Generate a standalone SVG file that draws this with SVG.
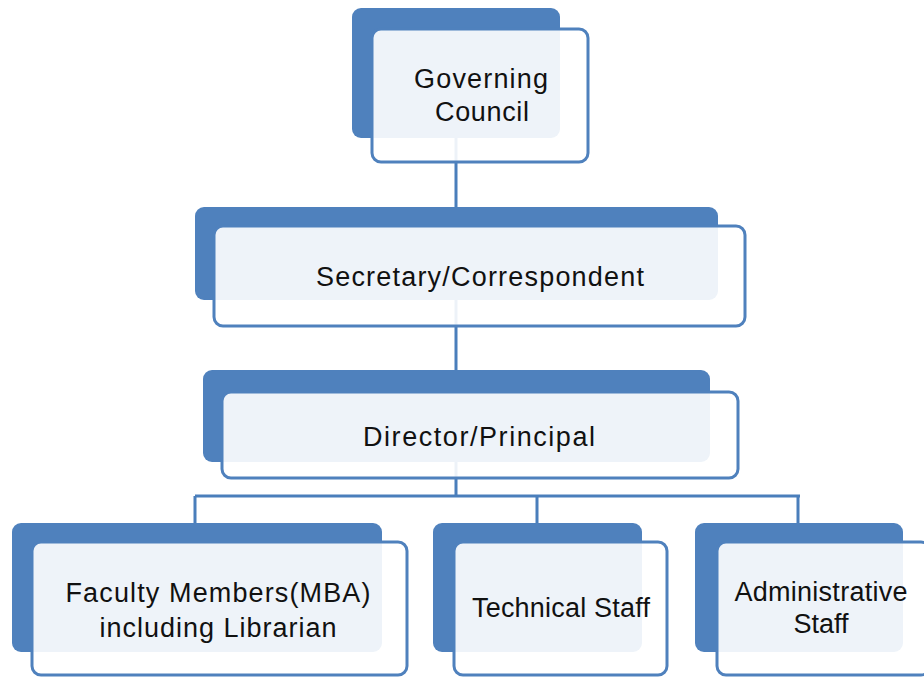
<svg xmlns="http://www.w3.org/2000/svg" width="924" height="677" viewBox="0 0 924 677">
<style>
.back{fill:#4F81BD;}
.front{fill:#FFFFFF;fill-opacity:0.9;stroke:#4F81BD;stroke-width:3;}
.conn{stroke:#4A7EBB;stroke-width:3;fill:none;}
.t{font-family:"Liberation Sans",Arial,sans-serif;font-size:27px;fill:#111111;text-anchor:middle;}
</style>
<rect width="924" height="677" fill="#FFFFFF"/>
<g id="connectors">
<path class="conn" d="M456 138V207M456 300V370M456 462V496M195 496H800M195 496V523M537 496V523M798 496V523"/>
</g>
<g id="governing-council">
<rect class="back" x="352" y="8" width="208" height="130" rx="9"/>
<rect class="front" x="372" y="29" width="216" height="133" rx="9"/>
<text class="t" x="481" y="88" textLength="134" lengthAdjust="spacing">Governing</text>
<text class="t" x="482" y="121" textLength="94" lengthAdjust="spacing">Council</text>
</g>
<g id="secretary">
<rect class="back" x="195" y="207" width="523" height="93" rx="9"/>
<rect class="front" x="214" y="226" width="531" height="100" rx="9"/>
<text class="t" x="480" y="286" textLength="328" lengthAdjust="spacing">Secretary/Correspondent</text>
</g>
<g id="director">
<rect class="back" x="203" y="370" width="507" height="92" rx="9"/>
<rect class="front" x="222" y="392" width="516" height="86" rx="9"/>
<text class="t" x="479" y="446" textLength="232" lengthAdjust="spacing">Director/Principal</text>
</g>
<g id="faculty">
<rect class="back" x="12" y="523" width="370" height="129" rx="9"/>
<rect class="front" x="32" y="542" width="375" height="133" rx="9"/>
<text class="t" x="218" y="602" textLength="305" lengthAdjust="spacing">Faculty Members(MBA)</text>
<text class="t" x="218" y="637" textLength="237" lengthAdjust="spacing">including Librarian</text>
</g>
<g id="technical">
<rect class="back" x="433" y="523" width="209" height="129" rx="9"/>
<rect class="front" x="454" y="542" width="213" height="133" rx="9"/>
<text class="t" x="561" y="617" textLength="178" lengthAdjust="spacing">Technical Staff</text>
</g>
<g id="administrative">
<rect class="back" x="695" y="523" width="208" height="129" rx="9"/>
<rect class="front" x="717" y="542" width="213" height="133" rx="9"/>
<text class="t" x="821" y="601" textLength="173" lengthAdjust="spacing">Administrative</text>
<text class="t" x="821" y="633" textLength="55" lengthAdjust="spacing">Staff</text>
</g>
</svg>
